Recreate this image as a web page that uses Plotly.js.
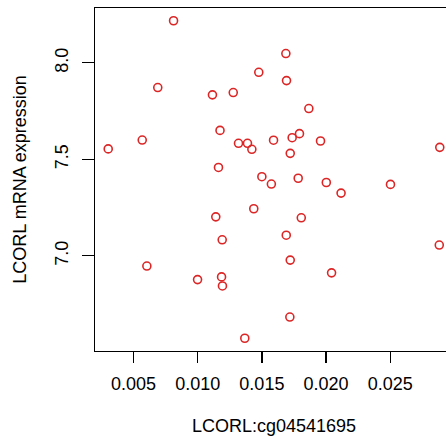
<!DOCTYPE html>
<html>
<head>
<meta charset="utf-8">
<script src="https://cdn.plot.ly/plotly-3.0.1.min.js"></script>
<style>
html, body { margin: 0; padding: 0; width: 446px; height: 439px; overflow: hidden; background: #fff; }
#chart { width: 480px; height: 439px; }
</style>
</head>
<body>
<div id="chart"></div>
<script>
// Methylation level of LCORL:cg04541695 (x) vs LCORL mRNA expression (y)
const methylation = [
  0.00812, 0.01476, 0.00689, 0.01115, 0.01277, 0.01174, 0.00568, 0.00303,
  0.01318, 0.01388, 0.01422, 0.01591, 0.01162, 0.01500, 0.01687, 0.01692,
  0.01866, 0.01736, 0.01793, 0.01957, 0.01721, 0.02886, 0.01783, 0.02002,
  0.01574, 0.01437, 0.01141, 0.01191, 0.00604, 0.00999, 0.01186, 0.01193,
  0.01367, 0.02117, 0.02502, 0.01807, 0.01690, 0.02882, 0.01721, 0.02043,
  0.01718
];
const expression = [
  8.218, 7.951, 7.872, 7.834, 7.846, 7.650, 7.600, 7.554,
  7.583, 7.583, 7.552, 7.599, 7.458, 7.410, 8.048, 7.908,
  7.763, 7.612, 7.633, 7.595, 7.531, 7.562, 7.402, 7.380,
  7.372, 7.244, 7.202, 7.083, 6.947, 6.877, 6.891, 6.844,
  6.573, 7.325, 7.370, 7.197, 7.107, 7.056, 6.978, 6.912,
  6.683
];
const xTickVals = [0.005, 0.010, 0.015, 0.020, 0.025];
const xTickText = ["0.005", "0.010", "0.015", "0.020", "0.025"];
const yTickVals = [7.0, 7.5, 8.0];
const yTickText = ["7.0", "7.5", "8.0"];
const xTitle = "LCORL:cg04541695";
const yTitle = "LCORL mRNA expression";

const font = { family: "Liberation Sans, Arial, Helvetica, sans-serif", size: 18, color: "#000" };

const trace = {
  type: "scatter",
  mode: "markers",
  x: methylation,
  y: expression,
  marker: {
    symbol: "circle-open",
    size: 8,
    color: "#dc2626",
    line: { width: 1.6, color: "#dc2626" }
  },
  hoverinfo: "x+y"
};

const layout = {
  width: 480,
  height: 439,
  margin: { l: 95, r: 27, t: 8, b: 88, pad: 0 },
  paper_bgcolor: "#fff",
  plot_bgcolor: "#fff",
  showlegend: false,
  font: font,
  xaxis: {
    range: [0.00200, 0.02989],
    tickmode: "array",
    tickvals: xTickVals,
    ticktext: xTickText,
    ticks: "outside",
    ticklen: 11,
    tickwidth: 1.3,
    tickcolor: "#000",
    showline: true,
    linecolor: "#000",
    linewidth: 1.4,
    mirror: true,
    showgrid: false,
    zeroline: false,
    tickfont: font,
    ticklabelstandoff: 5,
    title: { text: xTitle, font: font, standoff: 26 },
    automargin: false
  },
  yaxis: {
    range: [6.507, 8.284],
    tickmode: "array",
    tickvals: yTickVals,
    ticktext: yTickText,
    ticks: "outside",
    ticklen: 12,
    tickwidth: 1.3,
    tickcolor: "#000",
    tickangle: -90,
    showline: true,
    linecolor: "#000",
    linewidth: 1.4,
    mirror: true,
    showgrid: false,
    zeroline: false,
    tickfont: font,
    ticklabelstandoff: 6,
    title: { text: yTitle, font: font, standoff: 21 },
    automargin: false
  }
};

Plotly.newPlot("chart", [trace], layout, { displayModeBar: false, staticPlot: true });
</script>
</body>
</html>
